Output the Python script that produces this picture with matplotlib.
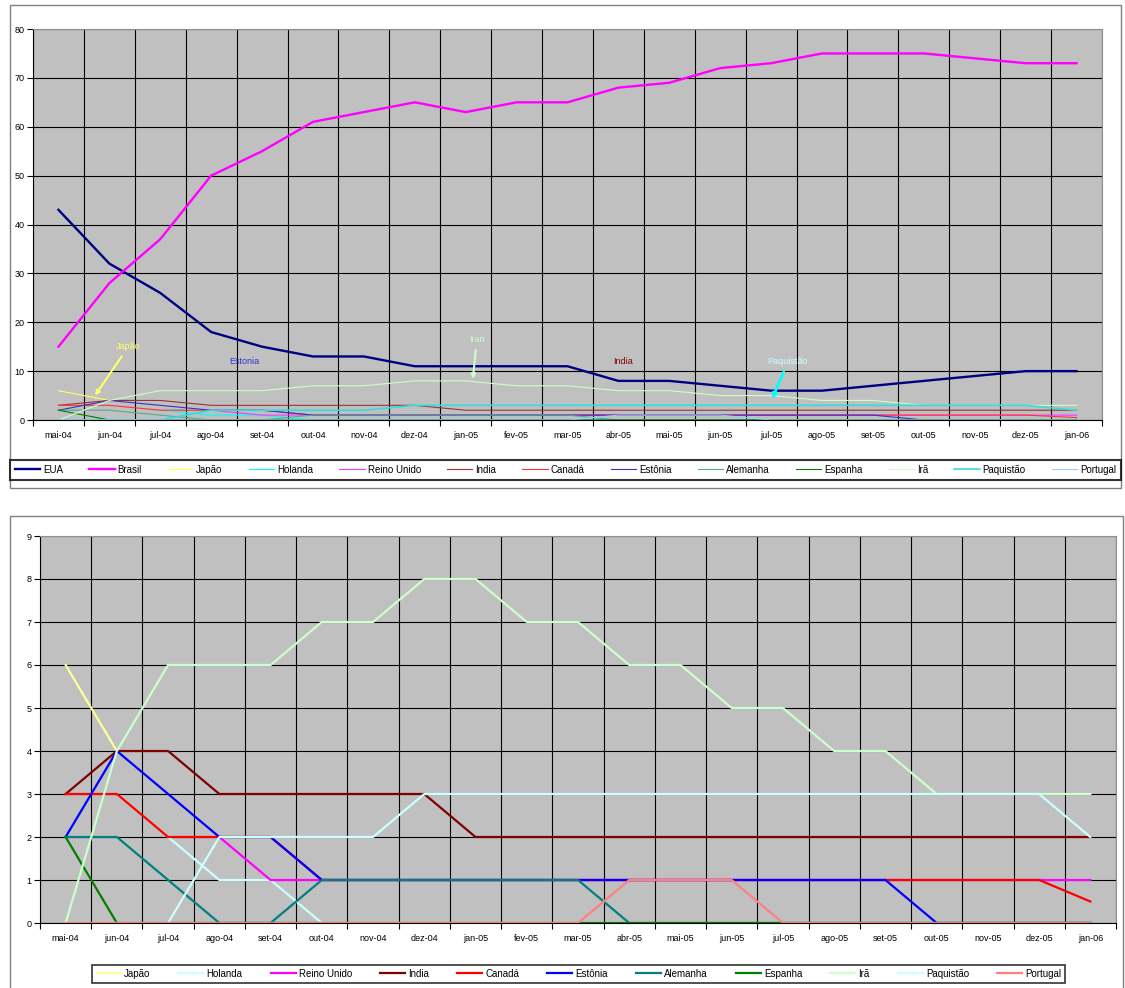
import numpy as np
import matplotlib
matplotlib.use('Agg')
import matplotlib.pyplot as plt
from matplotlib.patches import Rectangle

plt.rcParams['font.family'] = ['Liberation Sans', 'DejaVu Sans']

nan = np.nan

# meses (categorias)
meses = ['mai-04', 'jun-04', 'jul-04', 'ago-04', 'set-04', 'out-04', 'nov-04',
         'dez-04', 'jan-05', 'fev-05', 'mar-05', 'abr-05', 'mai-05', 'jun-05',
         'jul-05', 'ago-05', 'set-05', 'out-05', 'nov-05', 'dez-05', 'jan-06']

# series
eua = [43, 32, 26, 18, 15, 13, 13, 11, 11, 11, 11, 8, 8, 7, 6, 6, 7, 8, 9, 10, 10]
brasil = [15, 28, 37, 50, 55, 61, 63, 65, 63, 65, 65, 68, 69, 72, 73, 75, 75, 75, 74, 73, 73]
japao = [6, 4, nan, nan, nan, nan, nan, nan, nan, nan, nan, nan, nan, nan, nan, nan, nan, nan, nan, nan, nan]
holanda = [nan, nan, 2, 1, 1, 0, 0, 0, 0, 0, 0, 0, 0, 0, 0, 0, 0, 0, 0, 0, 0]
reino_unido = [nan, nan, nan, 2, 1, 1, 1, 1, 1, 1, 1, 1, 1, 1, 1, 1, 1, 1, 1, 1, 1]
india = [3, 4, 4, 3, 3, 3, 3, 3, 2, 2, 2, 2, 2, 2, 2, 2, 2, 2, 2, 2, 2]
canada = [3, 3, 2, 2, 2, 1, 1, 1, 1, 1, 1, 1, 1, 1, 1, 1, 1, 1, 1, 1, 0.5]
estonia = [2, 4, 3, 2, 2, 1, 1, 1, 1, 1, 1, 1, 1, 1, 1, 1, 1, 0, 0, 0, 0]
alemanha = [2, 2, 1, 0, 0, 1, 1, 1, 1, 1, 1, 0, 0, 0, 0, 0, 0, 0, 0, 0, 0]
espanha = [2, 0, 0, 0, 0, 0, 0, 0, 0, 0, 0, 0, 0, 0, 0, 0, 0, 0, 0, 0, 0]
ira = [0, 4, 6, 6, 6, 7, 7, 8, 8, 7, 7, 6, 6, 5, 5, 4, 4, 3, 3, 3, 3]
paquistao = [0, 0, 0, 2, 2, 2, 2, 3, 3, 3, 3, 3, 3, 3, 3, 3, 3, 3, 3, 3, 2]
portugal = [0, 0, 0, 0, 0, 0, 0, 0, 0, 0, 0, 1, 1, 1, 0, 0, 0, 0, 0, 0, 0]

# (nome, dados, cor grafico 1, largura, cor grafico 2)
series = [
    ('EUA', eua, '#000080', 1.7, None),
    ('Brasil', brasil, '#FF00FF', 1.7, None),
    ('Japão', japao, '#FFFF66', 0.8, '#FFFF99'),
    ('Holanda', holanda, '#00FFFF', 0.8, '#CCFFFF'),
    ('Reino Unido', reino_unido, '#FF33FF', 0.8, '#FF00FF'),
    ('India', india, '#993333', 0.8, '#800000'),
    ('Canadá', canada, '#FF3333', 0.8, '#FF0000'),
    ('Estônia', estonia, '#3333CC', 0.8, '#0000FF'),
    ('Alemanha', alemanha, '#55AA99', 0.8, '#008080'),
    ('Espanha', espanha, '#008000', 0.8, '#008000'),
    ('Irã', ira, '#CCFFCC', 0.8, '#CCFFCC'),
    ('Paquistão', paquistao, '#33DDDD', 1.2, '#CCFFFF'),
    ('Portugal', portugal, '#99CCFF', 0.8, '#FF8080'),
]

W, H = 1125, 988
fig = plt.figure(figsize=(W / 100, H / 100), dpi=100)
fig.patch.set_facecolor('white')


def px_axes(l, t, r, b):
    return fig.add_axes([l / W, 1 - b / H, (r - l) / W, (b - t) / H])


def estilo(ax, ymax):
    x = np.arange(len(meses))
    ax.set_facecolor('#C0C0C0')
    ax.set_xlim(-0.5, len(meses) - 0.5)
    ax.set_ylim(0, ymax)
    ax.set_xticks(x)
    ax.set_xticklabels(meses, fontsize=6.5)
    ax.set_xticks(np.arange(-0.5, len(meses), 1.0), minor=True)
    ax.tick_params(axis='x', which='major', length=0, pad=8)
    ax.tick_params(axis='x', which='minor', length=4, width=0.8)
    ax.tick_params(axis='y', length=4, width=0.8, labelsize=6.5, pad=2)
    ax.grid(True, axis='x', which='minor', color='black', lw=0.8)
    ax.grid(True, axis='y', which='major', color='black', lw=0.8)
    ax.set_axisbelow(True)
    for s in ['top', 'right']:
        ax.spines[s].set_color('#909090')
    for s in ['left', 'bottom']:
        ax.spines[s].set_color('black')


# ---- grafico 1 ----
fig.patches.append(Rectangle((10 / W, 1 - 488 / H), 1111 / W, 483 / H,
                             transform=fig.transFigure, fill=False,
                             edgecolor='#808080', lw=1))
ax1 = px_axes(33, 29, 1102, 420)
estilo(ax1, 80)
ax1.set_yticks(np.arange(0, 81, 10))
x = np.arange(len(meses))
handles = []
for nome, dados, cor, lw, cor2 in series:
    h, = ax1.plot(x, dados, color=cor, lw=lw, label=nome)
    handles.append(h)

ax1.annotate('Japão', xy=(0.72, 5.0), xytext=(1.37, 15.0), color='#FFFF66',
             fontsize=6.5, ha='center', va='center',
             arrowprops=dict(arrowstyle='-|>', color='#FFFF66', lw=1.5, shrinkB=0))
ax1.text(3.66, 11.9, 'Estonia', color='#3333CC', fontsize=6.5, ha='center', va='center')
ax1.annotate('Iran', xy=(8.14, 8.4), xytext=(8.22, 16.4), color='#CCFFCC',
             fontsize=6.5, ha='center', va='center',
             arrowprops=dict(arrowstyle='-|>', color='#CCFFCC', lw=1.5, shrinkB=0))
ax1.text(11.09, 11.9, 'India', color='#800000', fontsize=6.5, ha='center', va='center')
ax1.annotate('Paquistão', xy=(14.02, 4.3), xytext=(14.33, 11.9), color='#CCFFFF',
             fontsize=6.5, ha='center', va='center',
             arrowprops=dict(arrowstyle='-|>', color='#00FFFF', lw=2, shrinkB=0))

leg1 = fig.legend(handles=handles, loc='upper left',
                  bbox_to_anchor=(10 / W, 1 - 488 / H, 1111 / W, 28 / H),
                  mode='expand', ncol=13, fontsize=7, frameon=True,
                  fancybox=False, handlelength=2.6, handletextpad=0.3,
                  columnspacing=0.5, borderaxespad=0, borderpad=0.5)
leg1.get_frame().set_edgecolor('black')
leg1.get_frame().set_linewidth(1.5)

# ---- grafico 2 ----
fig.patches.append(Rectangle((10 / W, 1 - 1000 / H), 1113 / W, 484 / H,
                             transform=fig.transFigure, fill=False,
                             edgecolor='#808080', lw=1))
ax2 = px_axes(40, 536, 1116, 923)
estilo(ax2, 9)
ax2.set_yticks(np.arange(0, 10, 1))
handles2 = []
for nome, dados, cor, lw, cor2 in series:
    if cor2 is None:
        continue
    h, = ax2.plot(x, dados, color=cor2, lw=1.6, label=nome)
    handles2.append(h)

leg2 = fig.legend(handles=handles2, loc='upper left',
                  bbox_to_anchor=(92 / W, 1 - 989 / H, 973 / W, 24 / H),
                  mode='expand', ncol=11, fontsize=7, frameon=True,
                  fancybox=False, handlelength=2.6, handletextpad=0.3,
                  columnspacing=0.5, borderaxespad=0, borderpad=0.4)
leg2.get_frame().set_edgecolor('black')
leg2.get_frame().set_linewidth(1.2)

fig.savefig('out.png', dpi=100, facecolor='white')
